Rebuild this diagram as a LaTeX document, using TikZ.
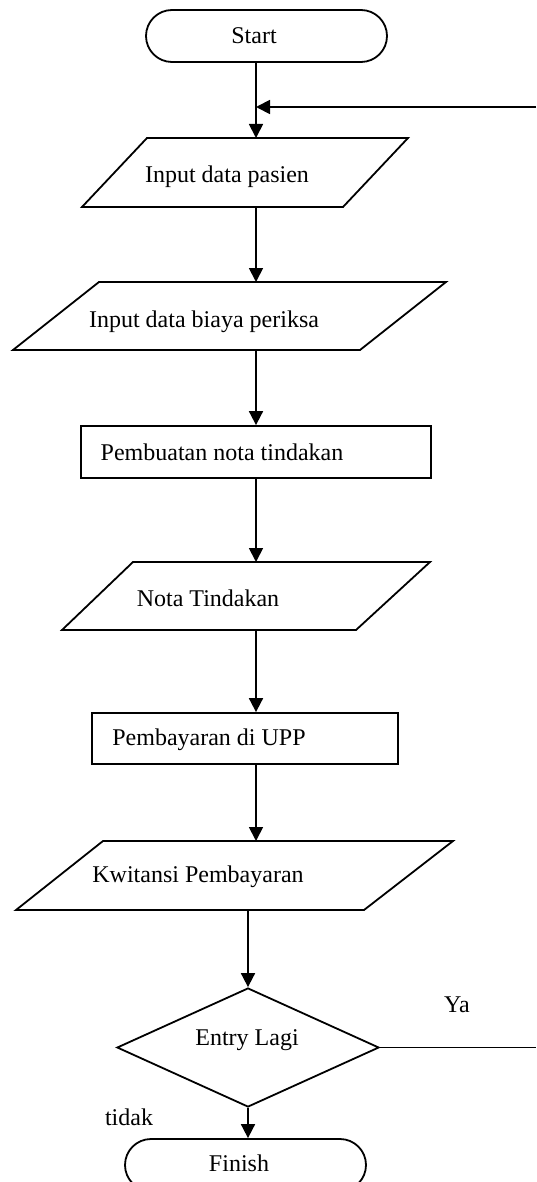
\documentclass[tikz,border=0pt]{standalone}
\usepackage{fontspec}
\setmainfont{Liberation Serif}
\usetikzlibrary{positioning,arrows.meta,shapes.geometric}

\begin{document}
\begin{tikzpicture}[x=0.5pt, y=-0.5pt, line width=0.9pt,
        font=\fontsize{12}{14}\selectfont,
        flow/.style={-{Triangle[length=7pt, width=7pt]}},
        terminal/.style={draw, rounded corners=13pt, minimum width=120.5pt, minimum height=26pt, inner sep=0pt},
        process/.style={draw, inner sep=0pt},
        decision/.style={draw, diamond, inner sep=0pt, minimum width=131pt, minimum height=59.5pt},
        txt/.style={inner sep=0pt}]
    \useasboundingbox (0,0) rectangle (536,1182);

    % start
    \node[terminal] (start) at (266.5,36) {};
    \node[txt] at (254,36) {Start};
    \coordinate (back) at (536,107);
    \coordinate (join) at (256,107);

    % input data pasien
    \draw (147,138) -- (408,138) -- (343,207) -- (82,207) -- cycle;
    \node[txt] (pasien) at (227,177) {Input data pasien};
    \coordinate (pasienT) at (256,138);
    \coordinate (pasienB) at (256,207);

    % input data biaya periksa
    \draw (99,282) -- (446,282) -- (360,350) -- (13,350) -- cycle;
    \node[txt] (biaya) at (204,322) {Input data biaya periksa};
    \coordinate (biayaT) at (256,282);
    \coordinate (biayaB) at (256,350);

    % pembuatan nota
    \node[process, minimum width=175pt, minimum height=26pt] (nota) at (256,452) {};
    \node[txt] at (222,452) {Pembuatan nota tindakan};

    % nota tindakan
    \draw (133,562) -- (430,562) -- (356,630) -- (62,630) -- cycle;
    \node[txt] (tindakan) at (208,598) {Nota Tindakan};
    \coordinate (tindakanT) at (256,562);
    \coordinate (tindakanB) at (256,630);

    % pembayaran
    \node[process, minimum width=153pt, minimum height=25.5pt] (bayar) at (245,738.5) {};
    \node[txt] at (209,740) {Pembayaran di UPP};

    % kwitansi
    \draw (103,841) -- (453,841) -- (364,910) -- (16,910) -- cycle;
    \node[txt] (kwitansi) at (198,877) {Kwitansi Pembayaran};
    \coordinate (kwitansiT) at (256,841);
    \coordinate (kwitansiB) at (248,910);

    % entry lagi
    \node[decision] (entry) at (248,1047.5) {};
    \node[txt] at (247,1040) {Entry Lagi};
    \coordinate (ya) at (536,1047.5);
    \node[txt] at (457,1005) {Ya};
    \node[txt] at (129,1117) {tidak};

    % finish
    \node[terminal] (finish) at (245.5,1165) {};
    \node[txt] at (239,1163) {Finish};

    \draw[flow] (start.south -| pasienT) -- (pasienT);
    \draw[flow] (back) -- (join);
    \draw[flow] (pasienB) -- (biayaT);
    \draw[flow] (biayaB) -- (nota.north);
    \draw[flow] (nota.south) -- (tindakanT);
    \draw[flow] (tindakanB) -- (bayar.north -| tindakanB);
    \draw[flow] (bayar.south -| tindakanB) -- (kwitansiT);
    \draw[flow] (kwitansiB) -- (entry.north);
    \draw (entry.east) -- (ya);
    \draw[flow] (entry.south) -- (finish.north -| entry.south);
\end{tikzpicture}
\end{document}
